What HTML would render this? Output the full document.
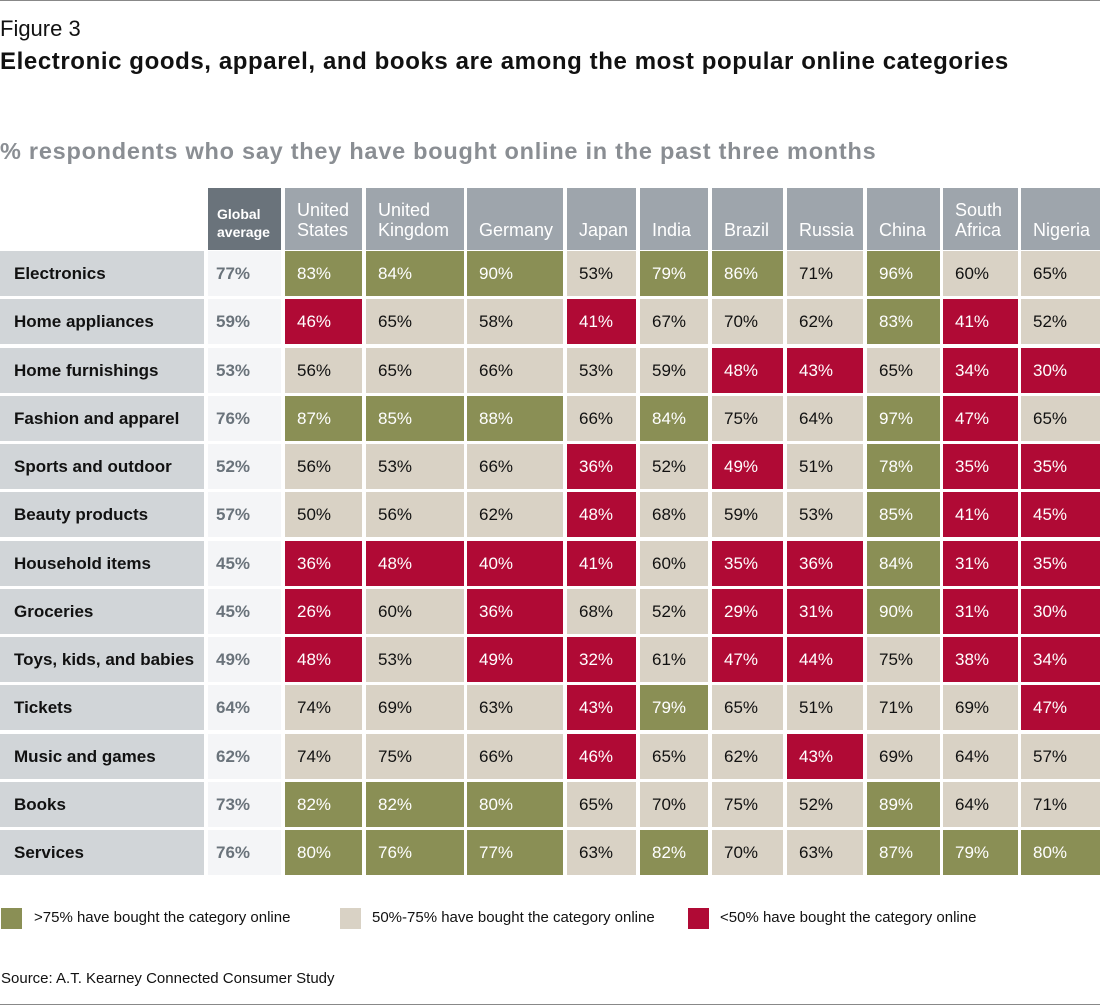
<!DOCTYPE html>
<html><head><meta charset="utf-8">
<style>
body{margin:0;width:1100px;height:1006px;background:#fff;position:relative;overflow:hidden;font-family:"Liberation Sans",sans-serif;}
.a{position:absolute;box-sizing:border-box;}
.cell{display:flex;align-items:center;padding-left:12px;font-size:17px;}
.hd{display:flex;align-items:flex-end;padding:0 0 10px 12px;font-size:18px;color:#fff;line-height:20px;}
</style></head><body>
<div class="a" style="left:0;top:0;width:1100px;height:1px;background:#888"></div>
<div class="a" style="left:0;top:16px;font-size:22px;color:#111">Figure 3</div>
<div class="a" style="left:0;top:48px;font-size:24px;font-weight:bold;color:#111;letter-spacing:0.6px;white-space:nowrap">Electronic goods, apparel, and books are among the most popular online categories</div>
<div class="a" style="left:0;top:138px;font-size:23.5px;font-weight:bold;color:#8a8e93;letter-spacing:0.75px;white-space:nowrap">% respondents who say they have bought online in the past three months</div>
<div id="grid"></div>
<div class="a" style="left:1px;top:908px;width:21px;height:21px;background:#8a8f55"></div>
<div class="a" style="left:34px;top:909px;font-size:15px;color:#111">&gt;75% have bought the category online</div>
<div class="a" style="left:340px;top:908px;width:21px;height:21px;background:#d9d2c5"></div>
<div class="a" style="left:372px;top:909px;font-size:15px;color:#111">50%-75% have bought the category online</div>
<div class="a" style="left:688px;top:908px;width:21px;height:21px;background:#b00a35"></div>
<div class="a" style="left:720px;top:909px;font-size:15px;color:#111">&lt;50% have bought the category online</div>
<div class="a" style="left:1px;top:970px;font-size:15px;color:#111">Source: A.T. Kearney Connected Consumer Study</div>
<div class="a" style="left:0;top:1004px;width:1100px;height:1px;background:#888"></div>
<script>
const categories=["Electronics","Home appliances","Home furnishings","Fashion and apparel","Sports and outdoor","Beauty products","Household items","Groceries","Toys, kids, and babies","Tickets","Music and games","Books","Services"];
const countries=["United<br>States","United<br>Kingdom","Germany","Japan","India","Brazil","Russia","China","South<br>Africa","Nigeria"];
const globalAvg=[77,59,53,76,52,57,45,45,49,64,62,73,76];
const values=[
[83,84,90,53,79,86,71,96,60,65],
[46,65,58,41,67,70,62,83,41,52],
[56,65,66,53,59,48,43,65,34,30],
[87,85,88,66,84,75,64,97,47,65],
[56,53,66,36,52,49,51,78,35,35],
[50,56,62,48,68,59,53,85,41,45],
[36,48,40,41,60,35,36,84,31,35],
[26,60,36,68,52,29,31,90,31,30],
[48,53,49,32,61,47,44,75,38,34],
[74,69,63,43,79,65,51,71,69,47],
[74,75,66,46,65,62,43,69,64,57],
[82,82,80,65,70,75,52,89,64,71],
[80,76,77,63,82,70,63,87,79,80]];
const colX=[285,366,467,567,640,712,787,867,943,1021];
const colW=[77,98,96,69,68,71,76,73,75,79];
const g=document.getElementById('grid');
function mk(name,x,y,w,h,bg,cls,html,color,extra){
 const d=document.createElement('div');
 d.className='a '+cls;
 
 
 d.style.cssText=`left:${x}px;top:${y}px;width:${w}px;height:${h}px;background:${bg};color:${color};`+(extra||'');
 d.innerHTML=html;g.appendChild(d);
}
const y0=251,rh=45,pitch=48.25;
mk('global-average-header',208,188,73,62,'#6a737b','hd','Global<br>average','#fff','font-weight:bold;font-size:14px;line-height:18px;padding-left:9px;padding-bottom:9px;');
countries.forEach((c,j)=>{
 mk('country-header',colX[j],188,colW[j],62,'#9ea5ac','hd',c,'#fff');
});
function color(v){return v>75?'#8a8f55':(v>=50?'#d9d2c5':'#b00a35');}
categories.forEach((cat,i)=>{
 const y=Math.round(y0+i*pitch);
 mk('row-label',0,y,204,rh,'#d1d5d8','cell',cat,'#111','font-weight:bold;font-size:17px;padding-left:14px;');
 mk('global-average-cell',208,y,73,rh,'#f4f5f7','cell',globalAvg[i]+'%','#6a737b','font-weight:bold;padding-left:8px;');
 values[i].forEach((v,j)=>{
  const c=color(v);
  mk('value-cell',colX[j],y,colW[j],rh,c,'cell',v+'%',c==='#d9d2c5'?'#111':'#fff');
 });
});
</script>
</body></html>
